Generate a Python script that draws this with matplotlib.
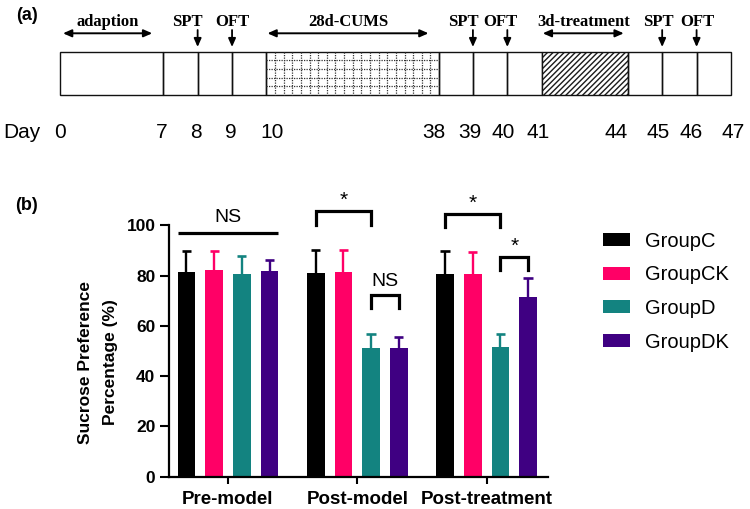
import matplotlib
matplotlib.use("Agg")
import matplotlib.pyplot as plt
from matplotlib.patches import Rectangle, Patch
import numpy as np

plt.rcParams['font.family'] = ['Liberation Sans', 'DejaVu Sans']
plt.rcParams['hatch.linewidth'] = 1.0

# ---------------- data ----------------
days = [0, 7, 8, 9, 10, 38, 39, 40, 41, 44, 45, 46, 47]
seg_units = [3, 1, 1, 1, 5, 1, 1, 1, 2.5, 1, 1, 1]
seg_fill = ['', '', '', '', 'grid', '', '', '', 'diag', '', '', '']
phase_labels = ['adaption', '28d-CUMS', '3d-treatment']
phase_bounds = [(0, 1), (4, 5), (8, 9)]
test_labels = ['SPT', 'OFT', 'SPT', 'OFT', 'SPT', 'OFT']
test_bounds = [2, 3, 6, 7, 10, 11]

groups = ['Pre-model', 'Post-model', 'Post-treatment']
series = ['GroupC', 'GroupCK', 'GroupD', 'GroupDK']
val_C = [81.3, 81.0, 80.4]
val_CK = [82.1, 81.4, 80.4]
val_D = [80.6, 51.2, 51.4]
val_DK = [81.7, 51.2, 71.5]
err_C = [8.6, 9.0, 9.2]
err_CK = [7.8, 8.6, 8.8]
err_D = [7.0, 5.7, 5.5]
err_DK = [4.6, 4.3, 7.5]
# significance: (group, series_from, series_to, height, leg, label)
sig = [
    (1, 0, 2, 105.6, 5.5, '*'),
    (1, 2, 3, 72.1, 5.0, 'NS'),
    (2, 0, 2, 104.6, 5.3, '*'),
    (2, 2, 3, 87.4, 5.2, '*'),
]
ns_line_height = 97.0
colors = ['#000000', '#ff0066', '#138380', '#3f0082']

# ---------------- figure ----------------
W, H = 750, 509
fig = plt.figure(figsize=(W / 100, H / 100), dpi=100)

# panel (a) overlay in pixel coordinates
axa = fig.add_axes([0, 0, 1, 1])
axa.set_xlim(0, W)
axa.set_ylim(H, 0)
axa.axis('off')

x0, cell = 60.0, 34.41
top, bot = 51.7, 95.0
bounds = [x0]
for u in seg_units:
    bounds.append(bounds[-1] + u * cell)

for i, u in enumerate(seg_units):
    xa, xb = bounds[i], bounds[i + 1]
    if seg_fill[i] == 'diag':
        axa.add_patch(Rectangle((xa, top), xb - xa, bot - top, facecolor='white',
                                edgecolor='#1a1a1a', hatch='//////', lw=0))
    if seg_fill[i] == 'grid':
        for xv in np.arange(xa + 8.63, xb - 1, 8.63):
            axa.plot([xv, xv], [top, bot], color='#333333', lw=0.9, ls=(0, (1, 1)))
        for yv in np.arange(top + 8.66, bot - 1, 8.66):
            axa.plot([xa, xb], [yv, yv], color='#333333', lw=0.9, ls=(0, (1, 1)))
    axa.add_patch(Rectangle((xa, top), xb - xa, bot - top, fill=False,
                            edgecolor='#111111', lw=1.0))

serif = ['Liberation Serif', 'DejaVu Serif']
arrow_y = 33.3
insets = [(3, 11), (1, 10), (1, 4)]
for lab, (a, b), (ia, ib) in zip(phase_labels, phase_bounds, insets):
    xa, xb = bounds[a] + ia, bounds[b] - ib
    axa.annotate('', xy=(xa, arrow_y), xytext=(xb, arrow_y),
                 arrowprops=dict(arrowstyle='<|-|>,head_length=0.5,head_width=0.22',
                                 color='black', lw=1.4, shrinkA=0, shrinkB=0))
    axa.text((xa + xb) / 2, 22, lab, family=serif, fontweight='bold',
             fontsize=12, ha='center', va='center')

txt_off = [-10, 0, -10, -7, -4, 1]
for lab, bi, off in zip(test_labels, test_bounds, txt_off):
    xb = bounds[bi]
    axa.annotate('', xy=(xb, 47), xytext=(xb, 30),
                 arrowprops=dict(arrowstyle='-|>,head_length=0.5,head_width=0.22',
                                 color='black', lw=1.3, shrinkA=0, shrinkB=0))
    axa.text(xb + off, 22, lab, family=serif, fontweight='bold',
             fontsize=12, ha='center', va='center')

day_off = [0, -2, -2, -1, 6, -5, -3, -4, -4, -12, -4, -5, 2]
axa.text(22, 132.7, 'Day', fontsize=15, ha='center', va='center')
for d, xb, off in zip(days, bounds, day_off):
    axa.text(xb + off, 132.7, str(d), fontsize=15, ha='center', va='center')

axa.text(16, 15, '(a)', fontsize=13, fontweight='bold', ha='left', va='center')
axa.text(15, 206, '(b)', fontsize=13, fontweight='bold', ha='left', va='center')

# panel (b)
left, right = 169.3, 548.0
y0px, y100px = 476.7, 225.2
axb = fig.add_axes([left / W, 1 - y0px / H, (right - left) / W, (y0px - y100px) / H])
axb.patch.set_alpha(0)

spacing, width = 0.214, 0.137
capw = 0.072
xg = np.arange(len(groups))
vals = [val_C, val_CK, val_D, val_DK]
errs = [err_C, err_CK, err_D, err_DK]
offs = [(-1.5 + k) * spacing for k in range(4)]
for k in range(4):
    xs = xg + offs[k]
    v = np.array(vals[k])
    e = np.array(errs[k])
    axb.bar(xs, v, width=width, color=colors[k], label=series[k], zorder=2)
    axb.vlines(xs, v, v + e, color=colors[k], lw=1.7, zorder=1, clip_on=False)
    axb.hlines(v + e, xs - capw / 2, xs + capw / 2, color=colors[k], lw=1.9,
               zorder=1, clip_on=False)

axb.set_xlim(-0.454, 2.475)
axb.set_ylim(0, 100)
axb.set_yticks([0, 20, 40, 60, 80, 100])
axb.set_xticks(xg)
axb.set_xticklabels(groups, fontweight='bold', fontsize=13.5)
for t in axb.get_yticklabels():
    t.set_fontweight('bold')
    t.set_fontsize(12.5)
axb.tick_params(axis='y', length=6.5, width=1.5, pad=3.5)
axb.tick_params(axis='x', length=5, width=1.5, pad=5)
for s in ['top', 'right']:
    axb.spines[s].set_visible(False)
for s in ['left', 'bottom']:
    axb.spines[s].set_linewidth(1.6)
axb.set_ylabel('Sucrose Preference\nPercentage (%)', fontweight='bold',
               fontsize=12.5, linespacing=1.8)
axb.yaxis.set_label_coords(-0.136, 0.455)

# significance marks
lw_sig = 2.3
xa = xg[0] + offs[0] - width / 2
xb2 = xg[0] + offs[3] + width / 2
axb.plot([xa, xb2], [ns_line_height] * 2, color='black', lw=lw_sig, clip_on=False,
         solid_capstyle='butt')
axb.text((xa + xb2) / 2, ns_line_height + 2.5, 'NS', ha='center', va='bottom',
         fontsize=14)
for g, a, b, h, leg, lab in sig:
    xa_ = xg[g] + offs[a]
    xb_ = xg[g] + offs[b]
    axb.plot([xa_, xa_, xb_, xb_], [h - leg, h, h, h - leg], color='black', lw=lw_sig,
             clip_on=False, solid_joinstyle='miter')
    if lab == '*':
        axb.text((xa_ + xb_) / 2, h + 0.5, lab, ha='center', va='bottom', fontsize=15)
    else:
        axb.text((xa_ + xb_) / 2, h + 2.0, lab, ha='center', va='bottom', fontsize=14)

handles = [Patch(facecolor=c, edgecolor='none') for c in colors]
fig.legend(handles, series, loc='upper left', bbox_to_anchor=(603 / W, 1 - 232 / H),
           bbox_transform=fig.transFigure, frameon=False, fontsize=14.5,
           handlelength=1.33, handleheight=0.62, handletextpad=0.75,
           labelspacing=0.72, borderpad=0, borderaxespad=0)

fig.savefig('out.png', dpi=100)
